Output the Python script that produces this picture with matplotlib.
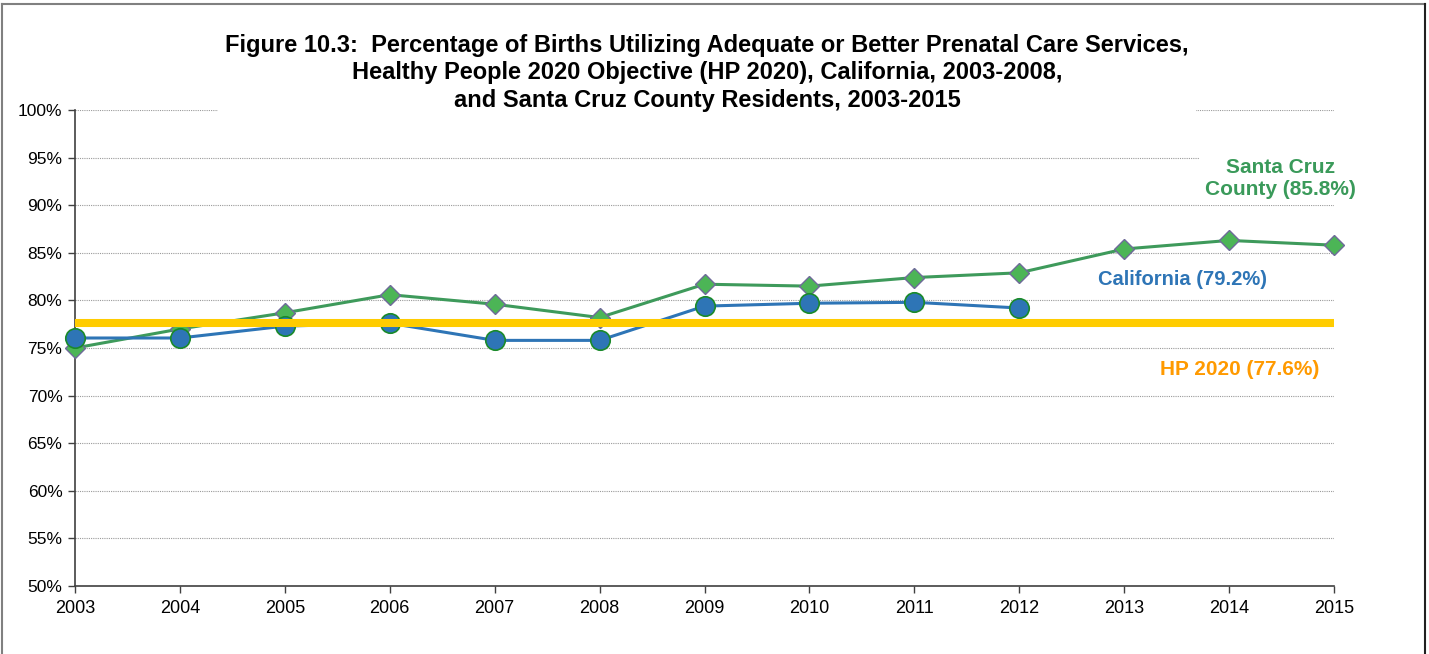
import matplotlib
matplotlib.use("Agg")
import matplotlib.pyplot as plt
from matplotlib.lines import Line2D

# data
years = [2003, 2004, 2005, 2006, 2007, 2008, 2009, 2010, 2011, 2012, 2013, 2014, 2015]
santa_cruz = [75.0, 77.0, 78.7, 80.6, 79.6, 78.2, 81.7, 81.5, 82.4, 82.9, 85.4, 86.3, 85.8]
ca_years = [2003, 2004, 2005, 2006, 2007, 2008, 2009, 2010, 2011, 2012]
california = [76.05, 76.05, 77.3, 77.6, 75.8, 75.8, 79.4, 79.7, 79.8, 79.2]
hp_target = 77.6
y_ticks = [50, 55, 60, 65, 70, 75, 80, 85, 90, 95, 100]

title = ("Figure 10.3:  Percentage of Births Utilizing Adequate or Better Prenatal Care Services,\n"
         "Healthy People 2020 Objective (HP 2020), California, 2003-2008,\n"
         "and Santa Cruz County Residents, 2003-2015")

GREEN_LINE = "#3E9A5B"
GREEN_FILL = "#4CB556"
BLUE = "#2E75B6"
YELLOW = "#FFCC00"
ORANGE = "#FF9A00"

plt.rcParams["font.family"] = ["Liberation Sans", "DejaVu Sans"]

fig = plt.figure(figsize=(14.29, 6.54), dpi=100)
ax = fig.add_axes([75 / 1429, 1 - 586 / 654, (1334 - 75) / 1429, (586 - 110) / 654])

ax.plot(years, santa_cruz, color=GREEN_LINE, lw=2.2, marker="D", ms=10,
        mfc=GREEN_FILL, mec="#6F6A9A", mew=1.0, zorder=3, clip_on=False)
ax.plot(ca_years, california, color=BLUE, lw=2.2, marker="o", ms=14,
        mfc=BLUE, mec="#1A8A2A", mew=1.2, zorder=4, clip_on=False)
ax.plot(years, [hp_target] * len(years), color=YELLOW, lw=5.8, zorder=5,
        solid_capstyle="butt", clip_on=False)

ax.set_xlim(years[0], years[-1])
ax.set_ylim(50, 100)
ax.set_xticks(years)
ax.set_yticks(y_ticks)
ax.set_yticklabels([f"{v}%" for v in y_ticks])
ax.tick_params(axis="both", length=5, width=1, color="#404040", direction="out")
ax.tick_params(axis="x", labelsize=13, pad=5)
ax.tick_params(axis="y", labelsize=12.5, pad=4)
ax.grid(axis="y", color="#9A9A9A", lw=0.8, linestyle=(0, (1, 1)))
ax.set_axisbelow(True)
for side in ("top", "right"):
    ax.spines[side].set_visible(False)
for side in ("left", "bottom"):
    ax.spines[side].set_color("#404040")
    ax.spines[side].set_linewidth(1.2)

# series labels (white boxes hide the gridlines behind them, like the original)
ax.text(2014.49, 92.85, "Santa Cruz\nCounty (85.8%)", color="#3A9A5A", fontsize=15,
        fontweight="bold", ha="center", va="center", linespacing=1.2, zorder=6,
        clip_on=False, bbox=dict(boxstyle="square,pad=0.3", fc="white", ec="none"))
ax.text(2013.56, 82.15, "California (79.2%)", color=BLUE, fontsize=14.5,
        fontweight="bold", ha="center", va="center", zorder=6)
ax.text(2014.1, 72.7, "HP 2020 (77.6%)", color=ORANGE, fontsize=15,
        fontweight="bold", ha="center", va="center", zorder=6)

fig.text(707 / 1429, 1 - 73 / 654, title, fontsize=17, fontweight="bold",
         ha="center", va="center", linespacing=1.25, zorder=10,
         bbox=dict(boxstyle="square,pad=0.3", fc="white", ec="none"))

# chart frame
fig.add_artist(Line2D([2 / 1429, 2 / 1429], [0, 1 - 3.5 / 654], color="#808080", lw=1.5))
fig.add_artist(Line2D([2 / 1429, 1425 / 1429], [1 - 3.5 / 654, 1 - 3.5 / 654], color="#808080", lw=1.5))
fig.add_artist(Line2D([1425 / 1429, 1425 / 1429], [0, 1 - 3.5 / 654], color="#202020", lw=1.5))

fig.savefig("out.png", dpi=100)
